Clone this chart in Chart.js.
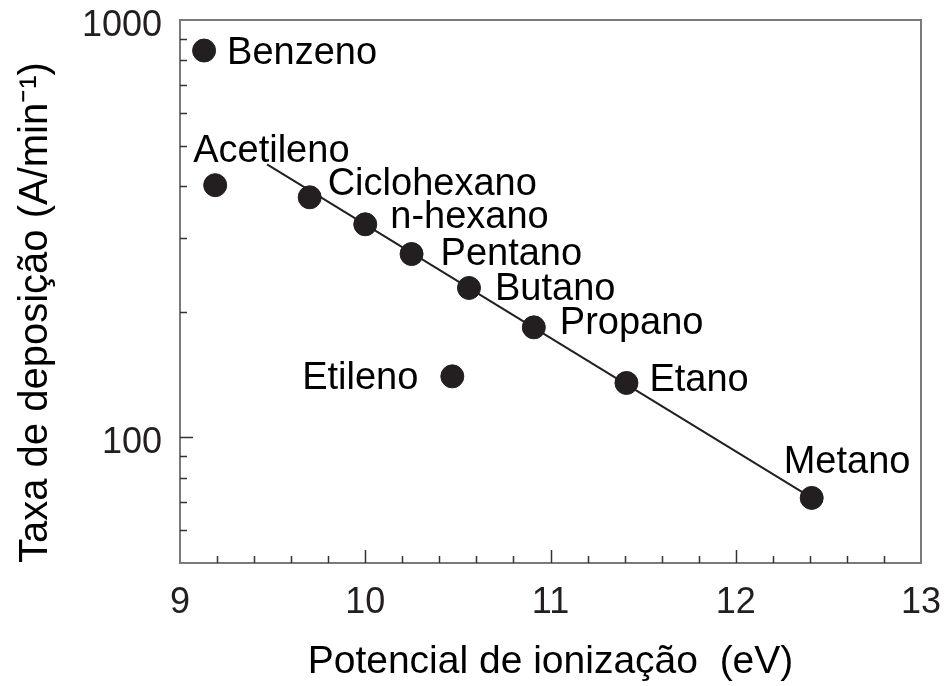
<!DOCTYPE html>
<html>
<head>
<meta charset="utf-8">
<script src="https://cdn.jsdelivr.net/npm/chart.js@4/dist/chart.umd.min.js"></script>
<style>
html,body{margin:0;padding:0;background:#fff;}
canvas{display:block;}
</style>
</head>
<body>
<canvas id="c" width="946" height="686"></canvas>
<script>
// ---- data ----
const compounds = ['Benzeno','Acetileno','Ciclohexano','n-hexano','Pentano','Butano','Propano','Etileno','Etano','Metano'];
const ionizationEV = [9.13, 9.19, 9.70, 10.00, 10.25, 10.56, 10.91, 10.47, 11.41, 12.41];
const depositionRate = [845, 402, 376, 324, 275, 228, 183.5, 140, 135, 71.6];
const fitX = [9.47, 12.41];
const fitY = [451, 71.6];
const xTickLabels = [9, 10, 11, 12, 13];
const yTickLabels = [100, 1000];

// ---- label placement (style, not data) ----
const labelStyle = {
  'Benzeno':    {dx: 23,   dy: 13,  align: 'left'},
  'Acetileno':  {dx: -22,  dy: -23, align: 'left'},
  'Ciclohexano':{dx: 18,   dy: -2,  align: 'left'},
  'n-hexano':   {dx: 25,   dy: 4,   align: 'left'},
  'Pentano':    {dx: 29,   dy: 11,  align: 'left'},
  'Butano':     {dx: 26,   dy: 12,  align: 'left'},
  'Propano':    {dx: 26,   dy: 7,   align: 'left'},
  'Etileno':    {dx: -34,  dy: 13,  align: 'right'},
  'Etano':      {dx: 23,   dy: 8,   align: 'left'},
  'Metano':     {dx: -28,  dy: -25, align: 'left'}
};

const INK = '#231f20';
const FONT = '"Liberation Sans", Arial, sans-serif';

const framePlugin = {
  id: 'frameTicks',
  afterDatasetsDraw(chart) {
    const {ctx, chartArea: a, scales} = chart;
    const xs = scales.x, ys = scales.y;
    ctx.save();
    // frame
    ctx.strokeStyle = '#7a7a7a';
    ctx.lineWidth = 2;
    ctx.strokeRect(a.left, a.top, a.right - a.left, a.bottom - a.top);
    // inward ticks
    ctx.strokeStyle = '#333';
    ctx.lineWidth = 1.5;
    ctx.beginPath();
    for (let i = 46; i < 65; i++) {
      const v = i / 5;
      const px = Math.round(xs.getPixelForValue(v)) + 0.5;
      const len = (i % 5 === 0) ? 13 : 7;
      ctx.moveTo(px, a.bottom);
      ctx.lineTo(px, a.bottom - len);
    }
    const yVals = [60,70,80,90,100,200,300,400,500,600,700,800,900];
    yVals.forEach(v => {
      const py = Math.round(ys.getPixelForValue(v)) + 0.5;
      const len = (v === 100) ? 13 : 7;
      ctx.moveTo(a.left, py);
      ctx.lineTo(a.left + len, py);
    });
    ctx.stroke();
    // point labels
    const meta = chart.getDatasetMeta(0);
    ctx.fillStyle = '#000';
    ctx.font = '38px ' + FONT;
    ctx.textBaseline = 'alphabetic';
    meta.data.forEach((pt, i) => {
      const name = compounds[i];
      const s = labelStyle[name];
      ctx.textAlign = s.align;
      ctx.fillText(name, pt.x + s.dx, pt.y + s.dy);
    });
    ctx.restore();
  }
};

function noPad(s) { s.paddingTop = 0; s.paddingBottom = 0; s.paddingLeft = 0; s.paddingRight = 0; }

new Chart(document.getElementById('c'), {
  type: 'scatter',
  data: {
    datasets: [
      {
        label: 'Compostos',
        data: ionizationEV.map((x, i) => ({x: x, y: depositionRate[i]})),
        backgroundColor: INK,
        borderColor: INK,
        pointRadius: 11.5,
        pointHoverRadius: 11.5,
        showLine: false,
        order: 0
      },
      {
        label: 'Ajuste',
        data: fitX.map((x, i) => ({x: x, y: fitY[i]})),
        showLine: true,
        borderColor: INK,
        borderWidth: 2,
        pointRadius: 0,
        fill: false,
        order: 1
      }
    ]
  },
  options: {
    responsive: false,
    animation: false,
    layout: {padding: {top: 20, right: 25, left: 0, bottom: 0}},
    plugins: {legend: {display: false}, tooltip: {enabled: false}},
    scales: {
      x: {
        type: 'linear',
        min: 9, max: 13,
        border: {display: false},
        grid: {display: false, drawTicks: false},
        afterBuildTicks: s => { s.ticks = xTickLabels.map(v => ({value: v})); },
        afterFit: s => { s.height = 123; noPad(s); },
        ticks: {
          padding: 18,
          color: INK,
          font: {family: FONT, size: 36},
          callback: v => String(v)
        },
        title: {
          display: true,
          text: 'Potencial de ionização  (eV)',
          color: '#000',
          font: {family: FONT, size: 39},
          padding: {top: 8, bottom: 0}
        }
      },
      y: {
        type: 'logarithmic',
        min: 50, max: 1000,
        border: {display: false},
        grid: {display: false, drawTicks: false},
        afterBuildTicks: s => { s.ticks = yTickLabels.map(v => ({value: v})); },
        afterFit: s => { s.width = 180; noPad(s); },
        ticks: {
          padding: 18,
          labelOffset: 6,
          color: INK,
          font: {family: FONT, size: 36},
          callback: v => String(v)
        },
        title: {
          display: true,
          text: 'Taxa de deposição (A/min\u207B\u00B9)',
          align: 'start',
          color: '#000',
          font: {family: FONT, size: 40},
          padding: {top: 12, bottom: 0}
        }
      }
    }
  },
  plugins: [framePlugin]
});
</script>
</body>
</html>
